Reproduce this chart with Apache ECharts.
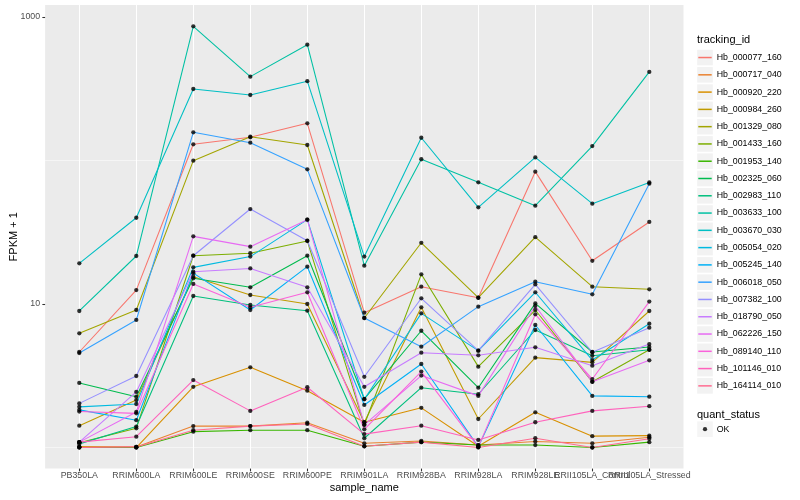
<!DOCTYPE html>
<html><head><meta charset="utf-8">
<script src="https://cdn.jsdelivr.net/npm/echarts@6/dist/echarts.min.js"></script>
<style>html,body{margin:0;padding:0;background:#fff}#c{width:800px;height:500px}</style>
</head><body><div id="c"></div>
<script>
const categories = ['PB350LA','RRIM600LA','RRIM600LE','RRIM600SE','RRIM600PE','RRIM901LA','RRIM928BA','RRIM928LA','RRIM928LE','RRII105LA_Control','RRII105LA_Stressed'];
const yTickLabels = [10, 1000];
const trackingIds = ['Hb_000077_160','Hb_000717_040','Hb_000920_220','Hb_000984_260','Hb_001329_080','Hb_001433_160','Hb_001953_140','Hb_002325_060','Hb_002983_110','Hb_003633_100','Hb_003670_030','Hb_005054_020','Hb_005245_140','Hb_006018_050','Hb_007382_100','Hb_018790_050','Hb_062226_150','Hb_089140_110','Hb_101146_010','Hb_164114_010'];

// FPKM + 1 per sample, in category order
const Hb_000077_160 = [4.63, 12.5, 129.7, 145.1, 181.6, 8.70, 13.2, 11.06, 83.6, 20.0, 37.3];
const Hb_000717_040 = [1.01, 1.01, 1.41, 1.41, 1.49, 1.07, 1.11, 1.04, 1.10, 1.07, 1.18];
const Hb_000920_220 = [1.01, 1.0, 2.65, 3.62, 2.49, 1.50, 1.89, 1.02, 1.76, 1.20, 1.21];
const Hb_000984_260 = [1.42, 2.14, 15.5, 11.55, 10.0, 1.50, 9.48, 1.58, 4.23, 3.92, 8.94];
const Hb_001329_080 = [6.25, 9.08, 99.7, 146.5, 128.2, 7.99, 26.7, 11.06, 29.2, 13.2, 12.66];
const Hb_001433_160 = [1.08, 1.36, 21.7, 22.6, 27.5, 1.44, 16.1, 3.66, 9.08, 2.87, 4.80];
const Hb_001953_140 = [1.0, 1.0, 1.29, 1.32, 1.32, 1.02, 1.09, 1.04, 1.04, 1.0, 1.09];
const Hb_002325_060 = [2.82, 2.26, 15.1, 13.07, 21.7, 2.18, 6.51, 2.61, 10.1, 4.63, 5.02];
const Hb_002983_110 = [1.06, 1.40, 11.37, 9.84, 8.98, 1.16, 2.61, 2.35, 6.59, 4.36, 4.80];
const Hb_003633_100 = [8.94, 21.6, 861, 384, 641, 18.5, 102, 70.5, 48.4, 126, 414];
const Hb_003670_030 = [19.2, 39.9, 315, 286, 357, 21.4, 144, 47.2, 105, 50, 70.3];
const Hb_005054_020 = [1.92, 2.01, 18.0, 21.4, 38.7, 2.17, 8.61, 4.73, 12.07, 4.07, 7.29];
const Hb_005245_140 = [1.83, 1.55, 16.4, 9.08, 18.2, 1.98, 3.82, 1.01, 7.14, 2.29, 2.26];
const Hb_006018_050 = [4.55, 7.74, 157.2, 133.0, 86.8, 7.99, 5.04, 9.58, 14.3, 11.68, 68.9];
const Hb_007382_100 = [2.03, 3.15, 21.7, 45.9, 27.6, 3.11, 10.96, 4.73, 13.7, 4.61, 6.84];
const Hb_018790_050 = [1.09, 2.44, 16.8, 17.7, 13.07, 2.65, 4.58, 4.39, 4.99, 3.72, 5.26];
const Hb_062226_150 = [1.09, 1.77, 29.6, 25.1, 38.7, 1.44, 3.17, 2.29, 9.68, 2.87, 4.05];
const Hb_089140_110 = [1.78, 1.73, 13.8, 9.48, 12.07, 1.34, 3.38, 1.01, 8.48, 3.00, 10.4];
const Hb_101146_010 = [1.09, 1.19, 2.95, 1.80, 2.63, 1.24, 1.42, 1.13, 1.50, 1.80, 1.94];
const Hb_164114_010 = [1.0, 1.01, 1.32, 1.41, 1.46, 1.02, 1.09, 1.0, 1.16, 1.0, 1.15];

const seriesValues = [Hb_000077_160, Hb_000717_040, Hb_000920_220, Hb_000984_260, Hb_001329_080, Hb_001433_160, Hb_001953_140, Hb_002325_060, Hb_002983_110, Hb_003633_100, Hb_003670_030, Hb_005054_020, Hb_005245_140, Hb_006018_050, Hb_007382_100, Hb_018790_050, Hb_062226_150, Hb_089140_110, Hb_101146_010, Hb_164114_010];

// styles
const palette = ['#F8766D','#EA8331','#D89000','#C09B00','#A3A500','#7CAE00','#39B600','#00BB4E','#00BF7D','#00C1A3','#00BFC4','#00BAE0','#00B0F6','#35A2FF','#9590FF','#C77CFF','#E76BF3','#FA62DB','#FF62BC','#FF6C91'];
const FONT = "'Liberation Sans', Arial, Helvetica, sans-serif";
const yMin = 0.713, yMax = 1212;

const lineSeries = trackingIds.map((id, k) => ({
  name: id, type: 'line', xAxisIndex: 1, yAxisIndex: 2,
  data: seriesValues[k], showSymbol: false, symbol: 'none',
  lineStyle: { color: palette[k], width: 1.07 }, itemStyle: { color: palette[k] },
  emphasis: { disabled: true }, silent: true, clip: false, z: 2, animation: false
}));
const pointData = [];
seriesValues.forEach(vals => vals.forEach((v, i) => pointData.push([categories[i], v])));
const okSeries = {
  name: 'OK', type: 'scatter', xAxisIndex: 1, yAxisIndex: 2, data: pointData,
  symbol: 'circle', symbolSize: 4.3, itemStyle: { color: '#000000' },
  clip: false, silent: true, z: 3, animation: false
};

const legendBase = { orient: 'vertical', itemGap: 0, padding: 0, selectedMode: false, align: 'left' };
const rowH = 17.28;
const legendTop = 48.9;
const okTop = 420.5;

const chart = echarts.init(document.getElementById('c'), null, { renderer: 'canvas' });
chart.setOption({
  animation: false,
  backgroundColor: '#FFFFFF',
  grid: [
    { left: 45.1, right: 800 - 683.5, top: 5, bottom: 500 - 468.6, show: true, backgroundColor: '#EBEBEB', borderWidth: 0, outerBoundsMode: 'none' },
    { left: 79.3, right: 800 - 649.3, top: 5, bottom: 500 - 468.6, show: false, outerBoundsMode: 'none' }
  ],
  xAxis: [
    { gridIndex: 0, type: 'value', min: 0, max: 1, show: false },
    { gridIndex: 1, type: 'category', data: categories, boundaryGap: false,
      axisLine: { show: false },
      axisTick: { show: true, interval: 0, length: 2.75, lineStyle: { color: '#333333', width: 1.07 } },
      axisLabel: { interval: 0, hideOverlap: false, color: '#4D4D4D', fontSize: 8.8, fontFamily: FONT, margin: 2.5 },
      splitLine: { show: true, interval: 0, lineStyle: { color: '#FFFFFF', width: 1.07 } },
      name: 'sample_name', nameLocation: 'middle', nameGap: 13.5, nameMoveOverlap: false,
      nameTextStyle: { color: '#000000', fontSize: 11, fontFamily: FONT } }
  ],
  yAxis: [
    { gridIndex: 0, type: 'log', logBase: 10, min: yMin, max: yMax, position: 'left',
      axisLine: { show: false },
      axisTick: { show: true, length: 2.75, customValues: yTickLabels, lineStyle: { color: '#333333', width: 1.07 } },
      axisLabel: { customValues: yTickLabels, color: '#4D4D4D', fontSize: 8.8, fontFamily: FONT, margin: 5,
        formatter: v => (yTickLabels.indexOf(Math.round(v)) >= 0 ? String(Math.round(v)) : '') },
      splitLine: { show: true, showMinLine: false, showMaxLine: false, lineStyle: { color: ['rgba(255,255,255,0)', '#FFFFFF'], width: 1.07 } },
      name: 'FPKM + 1', nameLocation: 'middle', nameGap: 26, nameMoveOverlap: false,
      nameTextStyle: { color: '#000000', fontSize: 11, fontFamily: FONT } },
    { gridIndex: 0, type: 'log', logBase: 10, min: yMin, max: yMax, position: 'right',
      axisLine: { show: false }, axisTick: { show: false }, axisLabel: { show: false },
      splitLine: { show: true, showMinLine: false, showMaxLine: false, lineStyle: { color: ['#FFFFFF', 'rgba(255,255,255,0)'], width: 0.53 } } },
    { gridIndex: 1, type: 'log', logBase: 10, min: yMin, max: yMax, show: false }
  ],
  legend: [
    Object.assign({}, legendBase, { left: 697.2, top: legendTop, data: trackingIds, icon: 'rect', itemWidth: 15.6, itemHeight: 15.6,
      itemStyle: { color: '#F2F2F2', borderWidth: 0 }, textStyle: { color: 'rgba(0,0,0,0)', fontSize: 8.8, lineHeight: rowH, fontFamily: FONT }, z: 1 }),
    Object.assign({}, legendBase, { left: 698.3, top: legendTop, data: trackingIds, icon: 'rect', itemWidth: 13.4, itemHeight: 1.5,
      itemStyle: { borderWidth: 0 }, textStyle: { color: '#000000', fontSize: 8.8, lineHeight: rowH, fontFamily: FONT }, z: 2 }),
    Object.assign({}, legendBase, { left: 697.2, top: okTop, data: ['OK'], icon: 'rect', itemWidth: 15.6, itemHeight: 15.6,
      itemStyle: { color: '#F2F2F2', borderWidth: 0 }, textStyle: { color: 'rgba(0,0,0,0)', fontSize: 8.8, lineHeight: rowH, fontFamily: FONT }, z: 1 }),
    Object.assign({}, legendBase, { left: 702.85, top: okTop, data: ['OK'], icon: 'circle', itemWidth: 4.3, itemHeight: 4.3,
      itemStyle: { borderWidth: 0 }, textStyle: { color: '#000000', fontSize: 8.8, lineHeight: rowH, fontFamily: FONT, padding: [0, 0, 0, 4.5] }, z: 2 })
  ],
  graphic: [
    { type: 'text', left: 697, top: 34, style: { text: 'tracking_id', fill: '#000000', fontSize: 11, fontFamily: FONT } },
    { type: 'text', left: 697, top: 409, style: { text: 'quant_status', fill: '#000000', fontSize: 11, fontFamily: FONT } }
  ],
  series: lineSeries.concat([okSeries])
});
</script></body></html>
